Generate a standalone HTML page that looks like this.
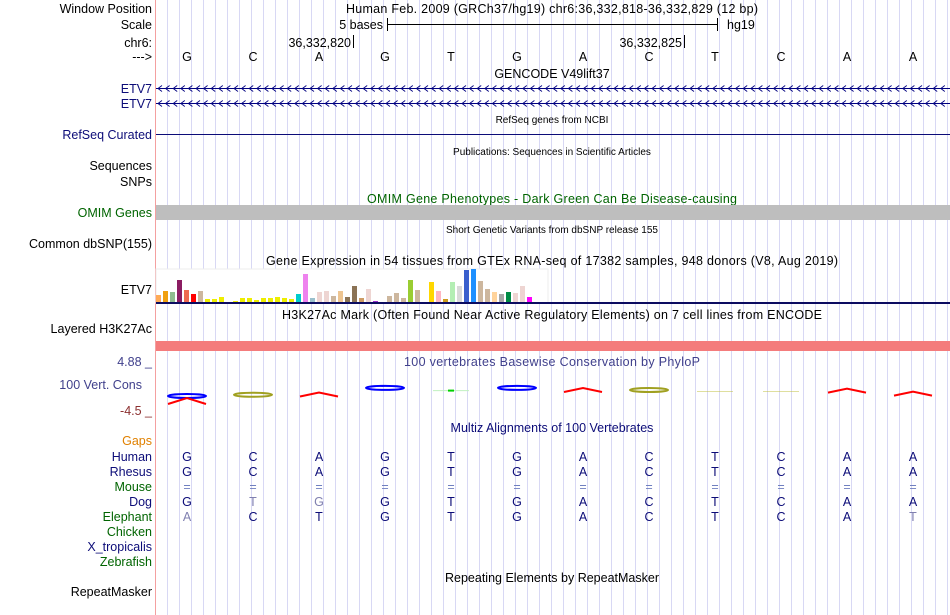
<!DOCTYPE html>
<html><head><meta charset="utf-8"><style>
html,body{margin:0;padding:0;background:#fff;}
svg{display:block;font-family:"Liberation Sans",sans-serif;}
</style></head><body>
<svg id="chart" width="950" height="615" viewBox="0 0 950 615">
<g id="grid"></g>
<line x1="155.5" y1="0" x2="155.5" y2="615" stroke="#f4a0a0"/>
<g font-size="12.5" text-anchor="end">
<text x="152" y="13" fill="#000">Window Position</text>
<text x="152" y="29" fill="#000">Scale</text>
<text x="152" y="47" fill="#000">chr6:</text>
<text x="152" y="61" fill="#000">---&gt;</text>
<text x="152" y="93" fill="#0c0c78">ETV7</text>
<text x="152" y="108" fill="#0c0c78">ETV7</text>
<text x="152" y="139" fill="#0c0c78">RefSeq Curated</text>
<text x="152" y="170" fill="#000">Sequences</text>
<text x="152" y="186" fill="#000">SNPs</text>
<text x="152" y="217" fill="#006400">OMIM Genes</text>
<text x="152" y="248" fill="#000">Common dbSNP(155)</text>
<text x="152" y="294" fill="#000">ETV7</text>
<text x="152" y="333" fill="#000">Layered H3K27Ac</text>
<text x="152" y="366" fill="#40408c">4.88 _</text>
<text x="142" y="389" fill="#40408c">100 Vert. Cons</text>
<text x="152" y="415" fill="#8c3030">-4.5 _</text>
<text x="152" y="445" fill="#e08000">Gaps</text>
<text x="152" y="461" fill="#0c0c78">Human</text>
<text x="152" y="476" fill="#0c0c78">Rhesus</text>
<text x="152" y="491" fill="#006400">Mouse</text>
<text x="152" y="506" fill="#0c0c78">Dog</text>
<text x="152" y="521" fill="#006400">Elephant</text>
<text x="152" y="536" fill="#006400">Chicken</text>
<text x="152" y="551" fill="#0c0c78">X_tropicalis</text>
<text x="152" y="566" fill="#006400">Zebrafish</text>
<text x="152" y="596" fill="#000">RepeatMasker</text>
</g>
<g font-size="12.5">
<text x="346" y="13" textLength="412">Human Feb. 2009 (GRCh37/hg19)   chr6:36,332,818-36,332,829 (12 bp)</text>
<text x="383" y="29" text-anchor="end">5 bases</text>
<line x1="387.5" y1="18" x2="387.5" y2="31" stroke="#000"/><line x1="717.5" y1="18" x2="717.5" y2="31" stroke="#000"/>
<line x1="387" y1="24.5" x2="717" y2="24.5" stroke="#000"/>
<text x="727" y="29">hg19</text>
<text x="351" y="47" text-anchor="end">36,332,820</text>
<line x1="353.5" y1="35" x2="353.5" y2="48" stroke="#000"/>
<text x="682" y="47" text-anchor="end">36,332,825</text>
<line x1="684.5" y1="35" x2="684.5" y2="48" stroke="#000"/>
</g>
<g id="bases" font-size="12.5" text-anchor="middle"></g>
<g font-size="12.5" text-anchor="middle">
<text x="552" y="78">GENCODE V49lift37</text>
<text x="552" y="123" font-size="10">RefSeq genes from NCBI</text>
<text x="552" y="155" font-size="10">Publications: Sequences in Scientific Articles</text>
<text x="552" y="203" fill="#006400" textLength="370">OMIM Gene Phenotypes - Dark Green Can Be Disease-causing</text>
<text x="552" y="233" font-size="10">Short Genetic Variants from dbSNP release 155</text>
<text x="552" y="265" textLength="572">Gene Expression in 54 tissues from GTEx RNA-seq of 17382 samples, 948 donors (V8, Aug 2019)</text>
<text x="552" y="319" textLength="540">H3K27Ac Mark (Often Found Near Active Regulatory Elements) on 7 cell lines from ENCODE</text>
<text x="552" y="366" fill="#40408c" textLength="296">100 vertebrates Basewise Conservation by PhyloP</text>
<text x="552" y="432" fill="#0c0c78">Multiz Alignments of 100 Vertebrates</text>
<text x="552" y="582">Repeating Elements by RepeatMasker</text>
</g>
<g id="genes">
<line x1="156" y1="88.5" x2="950" y2="88.5" stroke="#000080"/>
<line x1="156" y1="103.5" x2="950" y2="103.5" stroke="#000080"/>
</g>
<line x1="156" y1="134.5" x2="950" y2="134.5" stroke="#0c0c78"/>
<rect x="156" y="205" width="794" height="15" fill="#bebebe"/>
<rect x="156" y="269" width="392" height="34" fill="#fff" stroke="#eee"/>
<g id="gtex"></g>
<line x1="156" y1="303" x2="950" y2="303" stroke="#0c0c60" stroke-width="2"/>
<rect x="156" y="341" width="794" height="10" fill="#f47c7c"/>
<g id="cons"></g>
<g id="multiz" font-size="12.5" text-anchor="middle"></g>
</svg>
<script>
const NS="http://www.w3.org/2000/svg";
const bases=["G","C","A","G","T","G","A","C","T","C","A","A"];
const gtexValues=[8,12,11,23,13,9,12,4,4,6,1,2,5,5,3,5,5,6,5,4,9,29,5,11,12,7,12,6,17,5,14,2,1,7,10,5,23,13,1,21,12,4,21,17,33,34,22,14,11,9,11,10,17,6];
const gtexColors=["#ffaa55","#f0a010","#8fbc8f","#8b1c62","#ee6a50","#ff0000","#cdb79e","#eeee00","#eeee00","#eeee00","#eeee00","#eeee00","#eeee00","#eeee00","#eeee00","#eeee00","#eeee00","#eeee00","#eeee00","#eeee00","#00cdcd","#ee82ee","#9ac0cd","#eed5d2","#eed5d2","#cdb79e","#eec591","#8b7355","#8b7355","#cd9b64","#eed5d2","#9a32cd","#7a378b","#cdb79e","#cdb79e","#cdb79e","#9acd32","#cdb79e","#eeeeee","#ffd700","#ffb6c1","#cd9b1d","#b4eeb4","#d9d9d9","#3a5fcd","#1e90ff","#cdb79e","#cdb79e","#ffd39b","#a6a6a6","#008b45","#eed5d2","#eed5d2","#ff00ff"];
const consValues=[-1.0,-0.6,-0.5,1.7,0.8,1.7,1.0,1.0,0.5,0.5,0.8,-0.2];
const consColors=["#0000ff","#a0a020","#ff0000","#0000ff","#00c000","#0000ff","#ff0000","#a0a020","#c0c040","#c0c040","#ff0000","#ff0000"];
const species=["Human","Rhesus","Mouse","Dog","Elephant"];
const alignRows=[
 "GCAGTGACTCAA",
 "GCAGTGACTCAA",
 "============",
 "GTGGTGACTCAA",
 "ACTGTGACTCAT"];
const alignColors=["#0c0c78","#0c0c78","#7080c0","#0c0c78","#0c0c78"];
const lightDog=[1,2], lightEle=[0,11];
function xBase(i){return 187+66*i;}
function yGtex(v){return 303-v;}
function xGtex(i){return 156+7*i;}
function yCons(v){return 393-v*3;}
const g=document.getElementById('grid');
for(let x=167;x<950;x+=12){const l=document.createElementNS(NS,'line');l.setAttribute('x1',x+.5);l.setAttribute('x2',x+.5);l.setAttribute('y1',0);l.setAttribute('y2',615);l.setAttribute('stroke','#d8d8f4');


g.appendChild(l);}
const gn=document.getElementById('genes');
[88.5,103.5].forEach(y=>{let d='';for(let x=158;x<948;x+=7.6){d+=`M${x+4},${y-3}L${x},${y}L${x+4},${y+3}`;}
const p=document.createElementNS(NS,'path');p.setAttribute('d',d);p.setAttribute('stroke','#000080');p.setAttribute('fill','none');p.setAttribute('stroke-width','0.9');


gn.appendChild(p);});
const bg=document.getElementById('bases');
bases.forEach((b,i)=>{const t=document.createElementNS(NS,'text');t.setAttribute('x',xBase(i));t.setAttribute('y',61);t.textContent=b;


bg.appendChild(t);});
const gg=document.getElementById('gtex');
gtexValues.forEach((v,i)=>{const r=document.createElementNS(NS,'rect');r.setAttribute('x',xGtex(i));r.setAttribute('width',5);r.setAttribute('y',yGtex(v));r.setAttribute('height',v);r.setAttribute('fill',gtexColors[i]);


gg.appendChild(r);});
const cg=document.getElementById('cons');
consValues.forEach((v,i)=>{const cx=xBase(i), y=yCons(v), col=consColors[i];
let el;
if(col==="#ff0000"){el=document.createElementNS(NS,'path');el.setAttribute('d',`M${cx-19},${y+2}L${cx},${y-2}L${cx+19},${y+2}`);el.setAttribute('fill','none');el.setAttribute('stroke',col);el.setAttribute('stroke-width',2);}
else if(col==="#c0c040"){el=document.createElementNS(NS,'line');el.setAttribute('x1',cx-18);el.setAttribute('x2',cx+18);el.setAttribute('y1',y);el.setAttribute('y2',y);el.setAttribute('stroke',col);el.setAttribute('opacity','0.5');}
else if(col==="#00c000"){el=document.createElementNS(NS,'line');el.setAttribute('x1',cx-18);el.setAttribute('x2',cx+18);el.setAttribute('y1',y);el.setAttribute('y2',y);el.setAttribute('stroke','#c0f0c0');
const m=document.createElementNS(NS,'rect');m.setAttribute('x',cx-3);m.setAttribute('y',y-1);m.setAttribute('width',6);m.setAttribute('height',2);m.setAttribute('fill','#00d000');


cg.appendChild(m);}
else{el=document.createElementNS(NS,'ellipse');el.setAttribute('cx',cx);el.setAttribute('cy',y);el.setAttribute('rx',19);el.setAttribute('ry',2);el.setAttribute('fill','none');el.setAttribute('stroke',col);el.setAttribute('stroke-width',2);}


cg.insertBefore(el,cg.firstChild);});
const ex=document.createElementNS(NS,'path');ex.setAttribute('d','M168 404 L187 398 L206 404');ex.setAttribute('stroke','#ff0000');ex.setAttribute('fill','none');ex.setAttribute('stroke-width',2);


cg.appendChild(ex);
const mg=document.getElementById('multiz');
alignRows.forEach((row,r)=>{[...row].forEach((c,i)=>{const t=document.createElementNS(NS,'text');t.setAttribute('x',xBase(i));t.setAttribute('y',461+15*r);t.textContent=c;
let col=alignColors[r];
if(r===3&&lightDog.includes(i))col="#8080b0";
if(r===4&&lightEle.includes(i))col="#8080b0";
t.setAttribute('fill',col);


mg.appendChild(t);});});
</script>
</body></html>
